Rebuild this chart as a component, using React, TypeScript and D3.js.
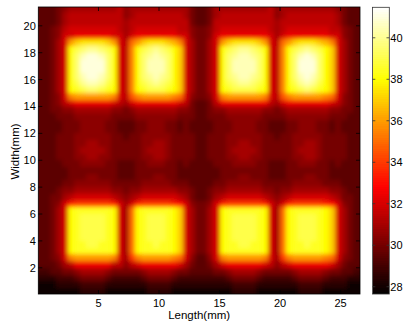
import React from "react";
import * as d3 from "d3";

// ---- axis / tick data ----
const lengthTicks = [5, 10, 15, 20, 25];
const widthTicks = [2, 4, 6, 8, 10, 12, 14, 16, 18, 20];
const colorTicks = [28, 30, 32, 34, 36, 38, 40];
const lengthDomain: [number, number] = [0.03, 26.6];
const widthDomain: [number, number] = [0.05, 21.4];
const tempDomain: [number, number] = [27.65, 41.47];
const cellMm = 0.5;

// Temperature readings on a 0.5 mm grid, rows from top (Width 21 mm) to bottom (0 mm),
// columns from Length 0 mm. Each character = 28 + 0.5 * (base-36 digit) degC.
const tempRows: string[] = [
  "33345 66666666 75 666666666 643346 66666666 75 666666666 54333",
  "33346 77777777 75 677777777 643346 77777777 75 677777777 64333",
  "33346 77777777 76 777777777 743347 77777777 76 777777777 64333",
  "33457 88888888 76 788888887 754457 88888888 76 788888887 75433",
  "33458 89999998 86 899999998 854458 99999999 86 899999998 85433",
  "33468 gijjjjig 87 egijjjihf 864468 gijjjjig 87 egijjjihf 86433",
  "33468 kmnoonmk 87 fkmnonmki 864468 kmnoonmk 87 fkmnonmki 86433",
  "33468 knpqqpnk 87 fknoponki 864468 knopponk 87 fknpqpnki 86433",
  "33468 knqqqqnk 87 fknpppnki 864468 knppppnk 87 fknqqqnki 86433",
  "33468 knqqqqnk 87 fknpppnki 864468 knppppnk 87 fknqqqnki 86433",
  "33468 knpqqpnk 87 fknoponki 864468 knopponk 87 fknpqpnki 86433",
  "33468 kmoppomk 87 fkmnonmki 864468 kmnoonmk 87 fkmopomki 86433",
  "33468 klmnnmlk 87 fklmmmlki 864468 klmmmmlk 87 fklmnmlki 86433",
  "33458 fggggggf 87 dfgggggfe 854458 fggggggf 87 dfgggggfe 85433",
  "33457 89999998 76 899999998 743347 99999999 76 899999998 75433",
  "33445 56666665 54 566666665 543345 56666665 54 566666665 54433",
  "33344 45555554 44 455555554 443344 45555554 44 455555554 44333",
  "33334 44555544 33 344555443 433334 44555544 33 344555443 43333",
  "33334 44555544 33 344555443 433334 44555544 33 344555443 43333",
  "33344 45555554 43 445555544 443344 45555554 43 445555544 44333",
  "33344 45566554 44 445566544 443344 45566554 44 445566544 44333",
  "33344 45666654 44 445666544 443344 45666654 44 445666544 44333",
  "33344 45566554 44 445566544 443344 45566554 44 445566544 44333",
  "33334 44555544 33 344555443 433334 44555544 33 344555443 43333",
  "33333 44444444 33 344444443 333333 44444444 33 344444443 33333",
  "33333 44455444 33 344455443 333333 44455444 33 344455443 33333",
  "33334 45555554 44 445555544 433334 45555554 44 445555544 43333",
  "33345 56666665 54 556666665 543345 56666665 54 556666665 54333",
  "33446 78888887 65 678888887 643346 78888887 65 678888887 64433",
  "33458 bccccccb 86 8bcccccba 854458 bccccccb 86 8bcccccba 85433",
  "33468 kllllllk 86 eklllllki 864468 kllllllk 86 eklllllki 86433",
  "33468 klmmmmlk 86 eklmmmlki 864468 klmmmmlk 86 eklmmmlki 86433",
  "33468 klmmmmlk 86 eklmmmlki 864468 klmmmmlk 86 eklmmmlki 86433",
  "33468 klmmmmlk 86 eklmmmlki 864468 klmmmmlk 86 eklmmmlki 86433",
  "33468 klmmmmlk 86 eklmmmlki 864468 klmmmmlk 86 eklmmmlki 86433",
  "33468 kllmmllk 86 ekllmllki 864468 kllmmllk 86 ekllmllki 86433",
  "33468 kllllllk 86 eklllllki 864468 kllllllk 86 eklllllki 86433",
  "33458 fggggggf 86 cfgggggfe 853358 fggggggf 86 cfgggggfe 85433",
  "33346 79999997 75 789999998 643346 89999998 75 789999998 64333",
  "22334 45666654 44 445666654 433334 45666654 44 445666654 43322",
  "11122 23444432 22 223444432 222222 23444432 22 223444432 22111",
  "00011 11222211 11 111222211 111111 11222211 11 111222211 11000",
  "00000 00111100 00 000111100 000000 00111100 00 000111100 00000",
];

const decodeTemp = (ch: string) => 28 + parseInt(ch, 36) * 0.5;

const FONT = "'Liberation Sans', Arial, Helvetica, sans-serif";

export default function App() {
  const W = 406;
  const H = 327;
  const m = { left: 38.3, right: 360, top: 7, bottom: 294 };
  const cb = { left: 372.5, right: 389.3, top: 7.3, bottom: 294 };
  const pad = 14;

  const x = d3.scaleLinear().domain(lengthDomain).range([m.left, m.right]);
  const y = d3.scaleLinear().domain(widthDomain).range([m.bottom, m.top]);
  const span = tempDomain[1] - tempDomain[0];
  const color = d3
    .scaleLinear<string>()
    .domain([tempDomain[0], tempDomain[0] + 0.375 * span, tempDomain[0] + 0.75 * span, tempDomain[1]])
    .range(["#000000", "#ff0000", "#ffff00", "#ffffff"])
    .clamp(true);
  const yc = d3.scaleLinear().domain(tempDomain).range([cb.bottom, cb.top]);

  const nRows = tempRows.length;
  const cells: { key: string; x: number; y: number; w: number; h: number; fill: string }[] = [];
  tempRows.forEach((row, r) => {
    const chars = row.replace(/\s/g, "").split("");
    const y0 = (nRows - 1 - r) * cellMm;
    chars.forEach((ch, c) => {
      const x0 = c * cellMm;
      let px0 = x(x0);
      let px1 = x(x0 + cellMm);
      let py0 = y(y0 + cellMm);
      let py1 = y(y0);
      if (c === 0) px0 -= pad;
      if (c === chars.length - 1) px1 += pad;
      if (r === 0) py0 -= pad;
      if (r === nRows - 1) py1 += pad;
      cells.push({
        key: `${r}-${c}`,
        x: px0,
        y: py0,
        w: px1 - px0 + 0.4,
        h: py1 - py0 + 0.4,
        fill: color(decodeTemp(ch)),
      });
    });
  });

  const nBands = 128;
  const bands = d3.range(nBands).map((i) => {
    const v0 = tempDomain[0] + (i / nBands) * span;
    const v1 = tempDomain[0] + ((i + 1) / nBands) * span;
    return { key: i, y: yc(v1), h: yc(v0) - yc(v1) + 0.3, fill: color((v0 + v1) / 2) };
  });

  return (
    <svg
      width={W}
      height={H}
      viewBox={`0 0 ${W} ${H}`}
      style={{ position: "absolute", left: 0, top: 0, background: "#ffffff" }}
    >
      <defs>
        <clipPath id="plotClip">
          <rect x={m.left} y={m.top} width={m.right - m.left} height={m.bottom - m.top} />
        </clipPath>
        <filter
          id="soft"
          filterUnits="userSpaceOnUse"
          x={m.left - 20}
          y={m.top - 20}
          width={m.right - m.left + 40}
          height={m.bottom - m.top + 40}
        >
          <feGaussianBlur stdDeviation="2.0" />
        </filter>
      </defs>
      <rect x={0} y={0} width={W} height={H} fill="#ffffff" />

      <g clipPath="url(#plotClip)">
        <g filter="url(#soft)">
          {cells.map((d) => (
            <rect key={d.key} x={d.x} y={d.y} width={d.w} height={d.h} fill={d.fill} shapeRendering="crispEdges" />
          ))}
        </g>
      </g>

      {/* axes box and inward ticks */}
      <rect x={m.left} y={m.top} width={m.right - m.left} height={m.bottom - m.top} fill="none" stroke="#000" strokeWidth={0.8} />
      {lengthTicks.map((t) => (
        <g key={`xt${t}`}>
          <line x1={x(t)} x2={x(t)} y1={m.bottom} y2={m.bottom - 4} stroke="#000" strokeWidth={0.8} />
          <line x1={x(t)} x2={x(t)} y1={m.top} y2={m.top + 4} stroke="#000" strokeWidth={0.8} />
          <text x={x(t)} y={306.5} textAnchor="middle" fontFamily={FONT} fontSize={11} fill="#000">
            {t}
          </text>
        </g>
      ))}
      {widthTicks.map((t) => (
        <g key={`yt${t}`}>
          <line x1={m.left} x2={m.left + 4} y1={y(t)} y2={y(t)} stroke="#000" strokeWidth={0.8} />
          <line x1={m.right} x2={m.right - 4} y1={y(t)} y2={y(t)} stroke="#000" strokeWidth={0.8} />
          <text x={35.8} y={y(t)} dy="0.36em" textAnchor="end" fontFamily={FONT} fontSize={11} fill="#000">
            {t}
          </text>
        </g>
      ))}
      <text x={(m.left + m.right) / 2} y={318.5} textAnchor="middle" fontFamily={FONT} fontSize={11.5} fill="#000">
        Length(mm)
      </text>
      <text
        transform={`translate(18.5, ${(m.top + m.bottom) / 2 + 1}) rotate(-90)`}
        textAnchor="middle"
        fontFamily={FONT}
        fontSize={11.5}
        fill="#000"
      >
        Width(mm)
      </text>

      {/* colorbar */}
      <g>
        {bands.map((b) => (
          <rect key={b.key} x={cb.left} y={b.y} width={cb.right - cb.left} height={b.h} fill={b.fill} shapeRendering="crispEdges" />
        ))}
        <rect x={cb.left} y={cb.top} width={cb.right - cb.left} height={cb.bottom - cb.top} fill="none" stroke="#333" strokeWidth={0.8} />
        {colorTicks.map((t) => (
          <g key={`ct${t}`}>
            <line x1={cb.left} x2={cb.left + 2.8} y1={yc(t)} y2={yc(t)} stroke="#333" strokeWidth={0.8} />
            <line x1={cb.right} x2={cb.right - 2.8} y1={yc(t)} y2={yc(t)} stroke="#333" strokeWidth={0.8} />
            <text x={390.3} y={yc(t)} dy="0.36em" textAnchor="start" fontFamily={FONT} fontSize={11} fill="#000">
              {t}
            </text>
          </g>
        ))}
      </g>
    </svg>
  );
}
